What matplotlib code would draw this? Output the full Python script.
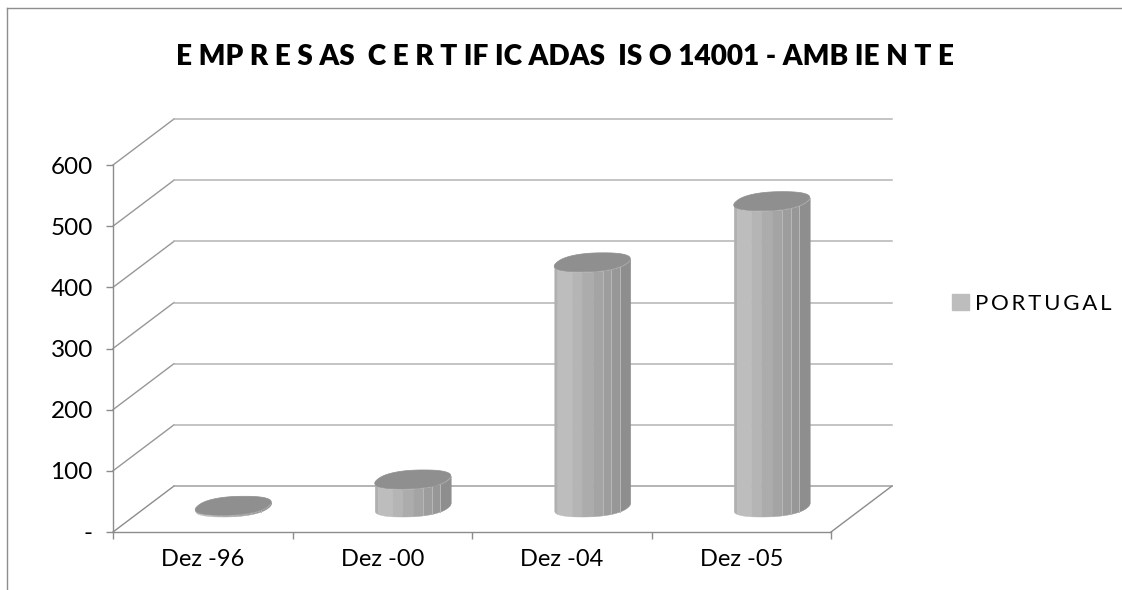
import numpy as np
import matplotlib
matplotlib.use('Agg')
import matplotlib.pyplot as plt
from matplotlib.lines import Line2D
from matplotlib.patches import Patch

# Values
categories = ['Dez -96', 'Dez -00', 'Dez -04', 'Dez -05']
values = [2, 45, 400, 500]
y_ticks = [0, 100, 200, 300, 400, 500, 600]
y_labels = ['-', '100', '200', '300', '400', '500', '600']
title = 'E MP R E S AS  C E R T IF IC ADAS  IS O 14001 - AMB IE N T E'
legend_label = 'P\u2009O\u2009R\u2009T\u2009U\u2009G\u2009A\u2009L'

W, H = 1122, 590
# facet edges across the cylinder (0-1) and their greys
facet_edges = [0, 0.04, 0.23, 0.36, 0.51, 0.64, 0.75, 0.86, 1]
facet_colors = ['#b0b0b0', '#bdbdbd', '#b5b5b5', '#acacac', '#a4a4a4', '#9d9d9d', '#979797', '#8e8e8e']

plt.rcParams['font.family'] = ['Lato', 'DejaVu Sans']

fig = plt.figure(figsize=(W / 100, H / 100), dpi=100)

# front wall of the fake 3D box is the real axes
left, right, top, bottom = 113, 831, 165, 532
ax = fig.add_axes([left / W, 1 - bottom / H, (right - left) / W, (bottom - top) / H])
ax.set_xlim(0, 4)
ax.set_ylim(0, 600)
ax.patch.set_visible(False)

px_x = (right - left) / 4      # pixels per category
px_y = (bottom - top) / 600    # pixels per value unit
depth_x = 61 / px_x
depth_y = 46 / px_y

# gridlines: side wall + back wall
for v in y_ticks:
    c = '#a0a0a0' if v == 0 else '#b4b4b4'
    side = '#8c8c8c' if v == 0 else '#979797'
    ax.plot([0, depth_x], [v, v + depth_y], color=side, lw=1, clip_on=False, zorder=1)
    ax.plot([depth_x, 4 + depth_x], [v + depth_y, v + depth_y], color=c, lw=1.1, clip_on=False, zorder=1)
ax.plot([4, 4 + depth_x], [0, depth_y], color='#8c8c8c', lw=1, clip_on=False, zorder=1)

half_w_px = 38
half_h_px = 9.5


def cap_outline(cx, cy, n=400):
    # tilted, slightly squared disc seen from above, in data units
    t = np.linspace(0, 2 * np.pi, n, endpoint=False)
    u = np.sign(np.cos(t)) * np.abs(np.cos(t)) ** 0.85
    w = np.sign(np.sin(t)) * np.abs(np.sin(t)) ** 0.85
    x = 32 * u + 10 * w
    x = x / np.abs(x).max() * half_w_px
    return cx + x / px_x, cy + half_h_px * w / px_y


half_w = half_w_px / px_x
for i, v in enumerate(values):
    cx = i + 0.5 + depth_x / 2
    base = 25 / px_y
    xs, ys = cap_outline(cx, base + v)
    # front half of the rim, walked from the leftmost to the rightmost point
    start = np.argmin(xs)
    xr, yr = np.roll(xs, -start), np.roll(ys, -start)
    stop = np.argmax(xr)
    front_x, front_y = xr[:stop + 1], yr[:stop + 1]
    for j, c in enumerate(facet_colors):
        x0 = cx - half_w + 2 * half_w * facet_edges[j]
        x1 = cx - half_w + 2 * half_w * facet_edges[j + 1]
        sx_ = np.linspace(x0, x1, 12)
        sy_ = np.interp(sx_, front_x, front_y)
        ax.fill_between(sx_, sy_ - v, sy_, color=c, lw=0.3, zorder=3, clip_on=False)
        if j >= 5:
            ax.plot([x0, x0], [sy_[0] - v, sy_[0]], color='#b8b8b8', lw=0.7, zorder=3, clip_on=False)
    ax.fill(xs, ys, color='#8f8f8f', lw=0.5, zorder=4, clip_on=False)

# axes
for s in ['top', 'right']:
    ax.spines[s].set_visible(False)
for s in ['left', 'bottom']:
    ax.spines[s].set_color('#8c8c8c')
    ax.spines[s].set_linewidth(1)
    ax.spines[s].set_zorder(2)
ax.set_yticks(y_ticks)
ax.set_yticklabels(y_labels, fontsize=17.5, color='black')
ax.tick_params(axis='y', length=5, width=1, color='#8c8c8c', pad=9.5)
ax.set_xticks(range(5))
ax.set_xticklabels([])
ax.tick_params(axis='x', which='major', length=5, width=1, color='#8c8c8c')
ax.set_xticks(np.arange(4) + 0.5, minor=True)
ax.set_xticklabels(categories, minor=True, fontsize=17)
ax.tick_params(axis='x', which='minor', length=0, pad=12)

fig.text(565 / W, 1 - 57 / H, title, ha='center', va='center', fontsize=20.2, fontweight='heavy')

fig.legend(handles=[Patch(color='#bdbdbd', label=legend_label)], loc='center left',
           bbox_to_anchor=(952 / W, 1 - 304 / H), frameon=False, fontsize=16,
           handlelength=0.76, handleheight=0.76, handletextpad=0.27, borderpad=0, borderaxespad=0)

# chart area border, only the top and left edges show
fig.add_artist(Line2D([6.5 / W, 6.5 / W], [0, 1 - 7.5 / H], color='#8e8e8e', lw=1))
fig.add_artist(Line2D([6.5 / W, 1], [1 - 7.5 / H, 1 - 7.5 / H], color='#8e8e8e', lw=1))

fig.savefig('out.png', dpi=100)
